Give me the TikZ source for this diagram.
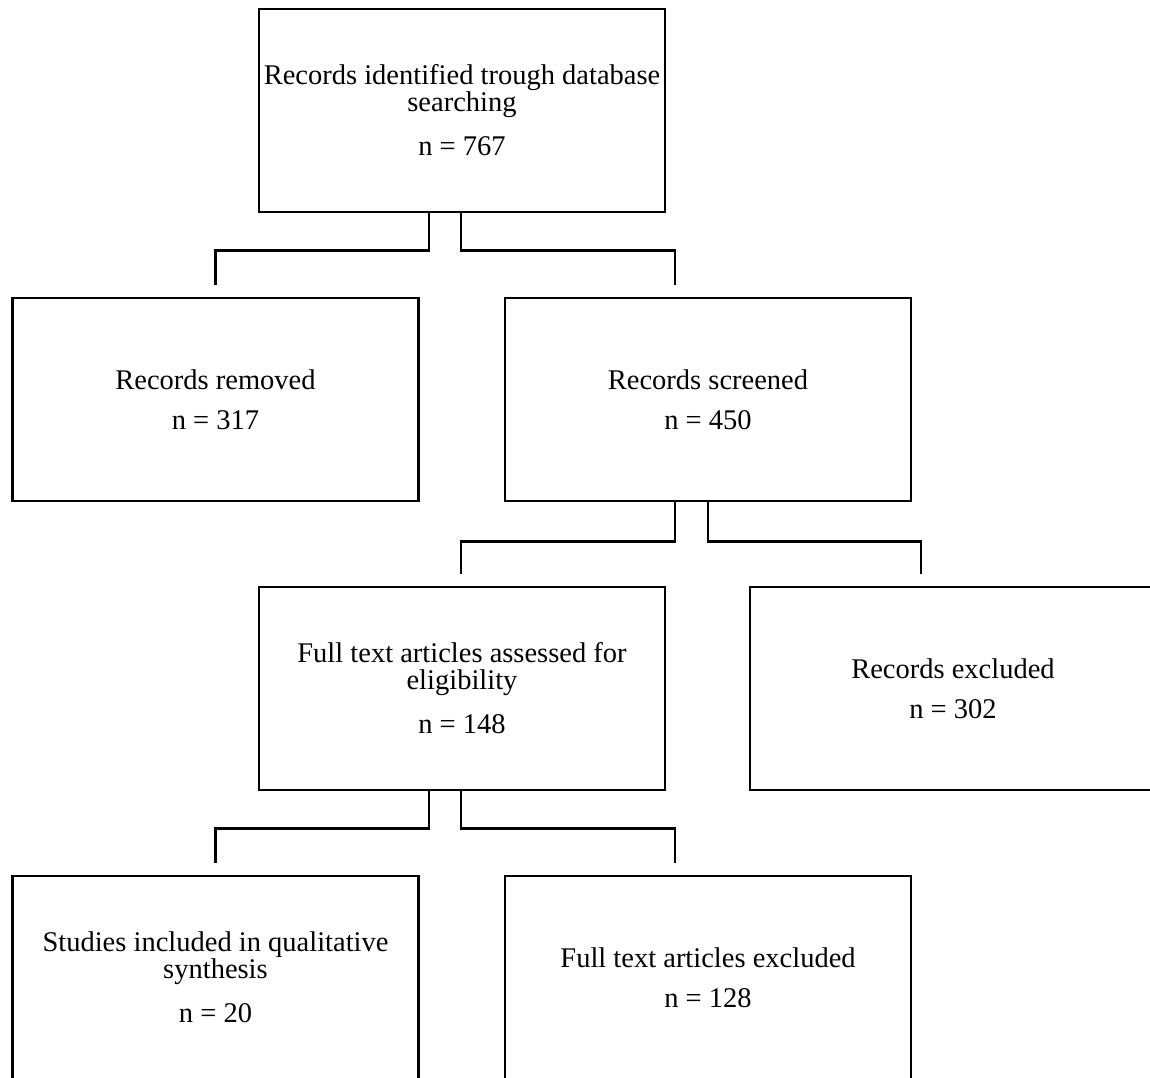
\documentclass[tikz,border=0pt]{standalone}
\usepackage{fontspec}
\setmainfont{Liberation Serif}
\usetikzlibrary{calc}

\begin{document}
\begin{tikzpicture}[%%
  x=1pt,y=-1pt,%%
  boxDecorate/.style={%%
    draw,line width=2.8pt,minimum width=406pt,minimum height=203pt,%%
    inner sep=0pt,align=center,font=\fontsize{28.5}{27}\selectfont%%
  },%%
  lineDecorate/.style={-,line width=2.8pt}%%
]
%%
%% Global variables.
\pgfmathsetmacro{\dx}{32}
\pgfmathsetmacro{\dy}{37}
\pgfmathsetmacro{\gap}{12}
\useasboundingbox (0,0) rectangle (1150,1077);
\clip (0,0) rectangle (1150,1077);
%%
%% Boxes.
\node[boxDecorate] (ident) at (462,110.5)
  {Records identified trough database\\searching\\[17pt]n = 767};
\node[boxDecorate] (removed) at (215.5,399.5) {Records removed\\[13pt]n = 317};
\node[boxDecorate] (screened) at (708,399.5) {Records screened\\[13pt]n = 450};
\node[boxDecorate] (fulltext) at (462,688.5)
  {Full text articles assessed for\\eligibility\\[17pt]n = 148};
\node[boxDecorate] (excluded) at (953,688.5) {Records excluded\\[13pt]n = 302};
\node[boxDecorate] (studies) at (215.5,977.5)
  {Studies included in qualitative\\synthesis\\[17pt]n = 20};
\node[boxDecorate] (ftexcl) at (708,977.5) {Full text articles excluded\\[13pt]n = 128};
%%
%% Split below the search box.
\coordinate (identL) at ($(ident.south)+(-\dx-1,0)$);
\coordinate (identR) at ($(ident.south)+(-1,0)$);
\coordinate (removedT) at ($(removed.north)+(0,-\gap)$);
\coordinate (screenedT) at ($(screened.north)+(-33,-\gap)$);
\draw[lineDecorate] (identL) -- ++(0,\dy) -| (removedT);
\draw[lineDecorate] (identR) -- ++(0,\dy) -| (screenedT);
%%
%% Split below the screened box.
\coordinate (screenedL) at ($(screened.south)+(-\dx-1,0)$);
\coordinate (screenedR) at ($(screened.south)+(0,0)$);
\coordinate (fulltextT) at ($(fulltext.north)+(-1,-\gap)$);
\coordinate (excludedT) at ($(excluded.north)+(-32,-\gap)$);
\draw[lineDecorate] (screenedL) -- ++(0,\dy+2) -| (fulltextT);
\draw[lineDecorate] (screenedR) -- ++(0,\dy+2) -| (excludedT);
%%
%% Split below the full text box.
\coordinate (fulltextL) at ($(fulltext.south)+(-\dx-1,0)$);
\coordinate (fulltextR) at ($(fulltext.south)+(-1,0)$);
\coordinate (studiesT) at ($(studies.north)+(0,-\gap)$);
\coordinate (ftexclT) at ($(ftexcl.north)+(-33,-\gap)$);
\draw[lineDecorate] (fulltextL) -- ++(0,\dy) -| (studiesT);
\draw[lineDecorate] (fulltextR) -- ++(0,\dy) -| (ftexclT);
\end{tikzpicture}
\end{document}
